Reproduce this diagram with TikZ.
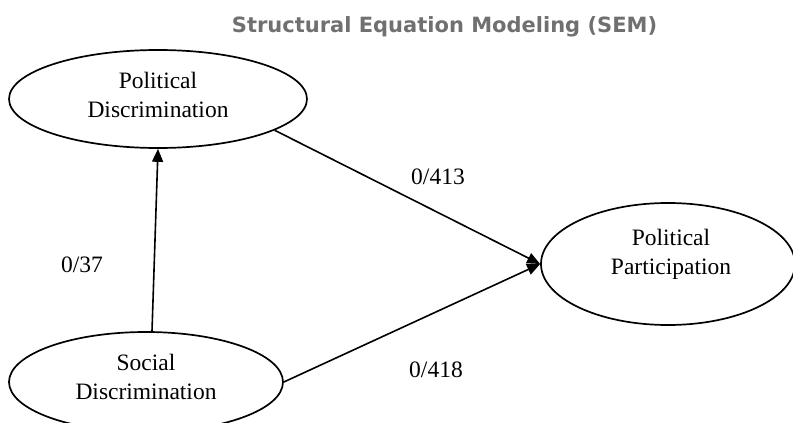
\documentclass[tikz,border=0pt]{standalone}
\usepackage{fontspec}
\setmainfont{Liberation Serif}
\newfontfamily\titlefont{DejaVu Sans}
\usetikzlibrary{shapes.geometric,arrows.meta}
\definecolor{titlegray}{HTML}{707070}
\tikzset{
  latent/.style={draw, ellipse, line width=1.7pt, inner sep=0pt},
  inner/.style={align=center, inner sep=0pt, font=\fontsize{23.5pt}{29pt}\selectfont},
  lbl/.style={font=\fontsize{23.5pt}{29pt}\selectfont, inner sep=0pt},
  arr/.style={line width=1.6pt, -{Triangle[length=13pt,width=11pt]}}
}
\begin{document}
\begin{tikzpicture}[x=1pt,y=1pt]
\useasboundingbox (0,0) rectangle (793,-423);
\node[font=\titlefont\bfseries\fontsize{21pt}{24pt}\selectfont, text=titlegray, anchor=base, inner sep=0pt] (title) at (444.5,-32) {Structural Equation Modeling (SEM)};
\node[latent, minimum width=298pt, minimum height=98pt] (pd) at (158,-99) {};
\node[latent, minimum width=254pt, minimum height=122pt] (pp) at (668,-264) {};
\node[latent, minimum width=274pt, minimum height=100pt] (sd) at (146,-382) {};
\node[inner] (pdt) at ([yshift=4.5pt]pd.center) {Political\\Discrimination};
\node[inner] (ppt) at ([xshift=3pt,yshift=9.5pt]pp.center) {Political\\Participation};
\node[inner] (sdt) at ([yshift=5pt]sd.center) {Social\\Discrimination};
\draw[arr] ([xshift=6pt]sd.north) -- (pd.south);
\draw[arr] (pd.-15) -- (pp.west);
\draw[arr] (sd.east) -- (pp.west);
\node[lbl] (l37) at (82,-265) {0/37};
\node[lbl] (l413) at (438,-177) {0/413};
\node[lbl] (l418) at (436,-370) {0/418};
\end{tikzpicture}
\end{document}
